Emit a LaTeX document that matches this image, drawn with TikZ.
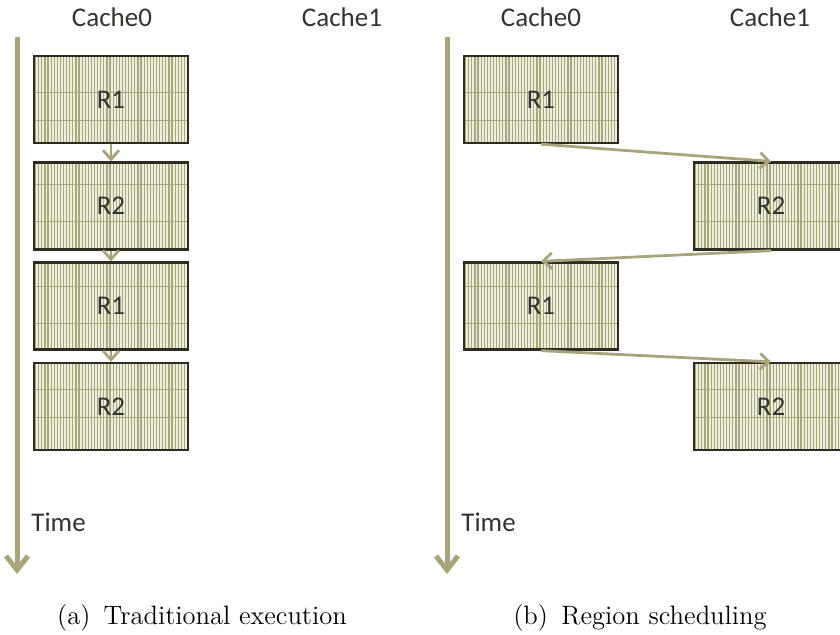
\documentclass[tikz,border=0pt]{standalone}
\usepackage{fontspec}
\newfontfamily\labelfont{Carlito}
\usetikzlibrary{arrows.meta}

\definecolor{axistan}{HTML}{A8A57D}
\definecolor{stripetan}{HTML}{A9A77D}
\definecolor{boxfill}{HTML}{EEEEDC}
\definecolor{boxedge}{HTML}{2E2B22}
\definecolor{labeltext}{HTML}{333330}

\tikzset{
  lbl/.style={font=\labelfont\fontsize{13.5}{16}\selectfont, text=labeltext, inner sep=0pt},
  captext/.style={font=\fontsize{13.3}{16}\selectfont, text=black, inner sep=0pt},
  stripe/.style={draw=stripetan, line width=0.6pt},
  rule/.style={draw=stripetan, line width=0.5pt},
  % striped region box; the two arguments place the horizontal rules (px from the top)
  region/.style 2 args={draw=boxedge, line width=1.15pt, fill=boxfill,
    minimum width=77pt, minimum height=43.5pt, inner sep=0pt,
    font=\labelfont\fontsize{13.5}{16}\selectfont, text=labeltext,
    path picture={
      \foreach \k in {0,...,50}{
        \draw[stripe] ([xshift=\k*1.55pt+0.8pt]path picture bounding box.north west)
          -- ([xshift=\k*1.55pt+0.8pt]path picture bounding box.south west);
      }
      \draw[rule] ([yshift=-#1*0.5pt]path picture bounding box.north west)
        -- ([yshift=-#1*0.5pt]path picture bounding box.north east);
      \draw[rule] ([yshift=-#2*0.5pt]path picture bounding box.north west)
        -- ([yshift=-#2*0.5pt]path picture bounding box.north east);
    }},
  timeaxis/.style={draw=axistan, line width=2.5pt,
    -{Straight Barb[length=7pt, width=11pt, line width=2.5pt]}},
  flow/.style={draw=axistan, line width=1.4pt,
    -{Straight Barb[length=4.5pt, width=8pt, line width=1.4pt]}},
}

\begin{document}
\begin{tikzpicture}[x=0.5pt, y=-0.5pt]
  \useasboundingbox (0,0) rectangle (840,634);
  \fill[white] (0,0) rectangle (840,634);
  \clip (0,0) rectangle (840,634);

  % ---- (a) traditional execution ----
  \node[lbl] (ca0) at (112,17) {Cache0};
  \node[lbl] (ca1) at (342,17) {Cache1};

  \coordinate (ta0) at (17,37);
  \coordinate (ta1) at (17,574);
  \draw[timeaxis] (ta0) -- (ta1);
  \node[lbl, anchor=west] (tla) at (31,522) {Time};

  \node[region={36}{64}] (a1) at (111,99.5) {R1};
  \node[region={22}{59}] (a2) at (111,206) {R2};
  \node[region={24}{61}] (a3) at (111,306) {R1};
  \node[region={26}{54}] (a4) at (111,406.5) {R2};

  \draw[flow] (a1.south) -- (a2.north);
  \draw[flow] (a2.south) -- (a3.north);
  \draw[flow] (a3.south) -- (a4.north);

  \node[captext] (capa) at (202,618) {(a)\enspace Traditional execution};

  % ---- (b) region scheduling ----
  \node[lbl] (cb0) at (541,17) {Cache0};
  \node[lbl] (cb1) at (770,17) {Cache1};

  \coordinate (tb0) at (447,37);
  \coordinate (tb1) at (447,574);
  \draw[timeaxis] (tb0) -- (tb1);
  \node[lbl, anchor=west] (tlb) at (461,522) {Time};

  \node[region={36}{64}] (b1) at (541,99.5) {R1};
  \node[region={22}{59}] (b2) at (771,206) {R2};
  \node[region={24}{61}] (b3) at (541,306) {R1};
  \node[region={26}{54}] (b4) at (771,406.5) {R2};

  \draw[flow] (b1.south) -- (b2.north);
  \draw[flow] (b2.south) -- (b3.north);
  \draw[flow] (b3.south) -- (b4.north);

  \node[captext] (capb) at (640,618) {(b)\enspace Region scheduling};
\end{tikzpicture}
\end{document}
